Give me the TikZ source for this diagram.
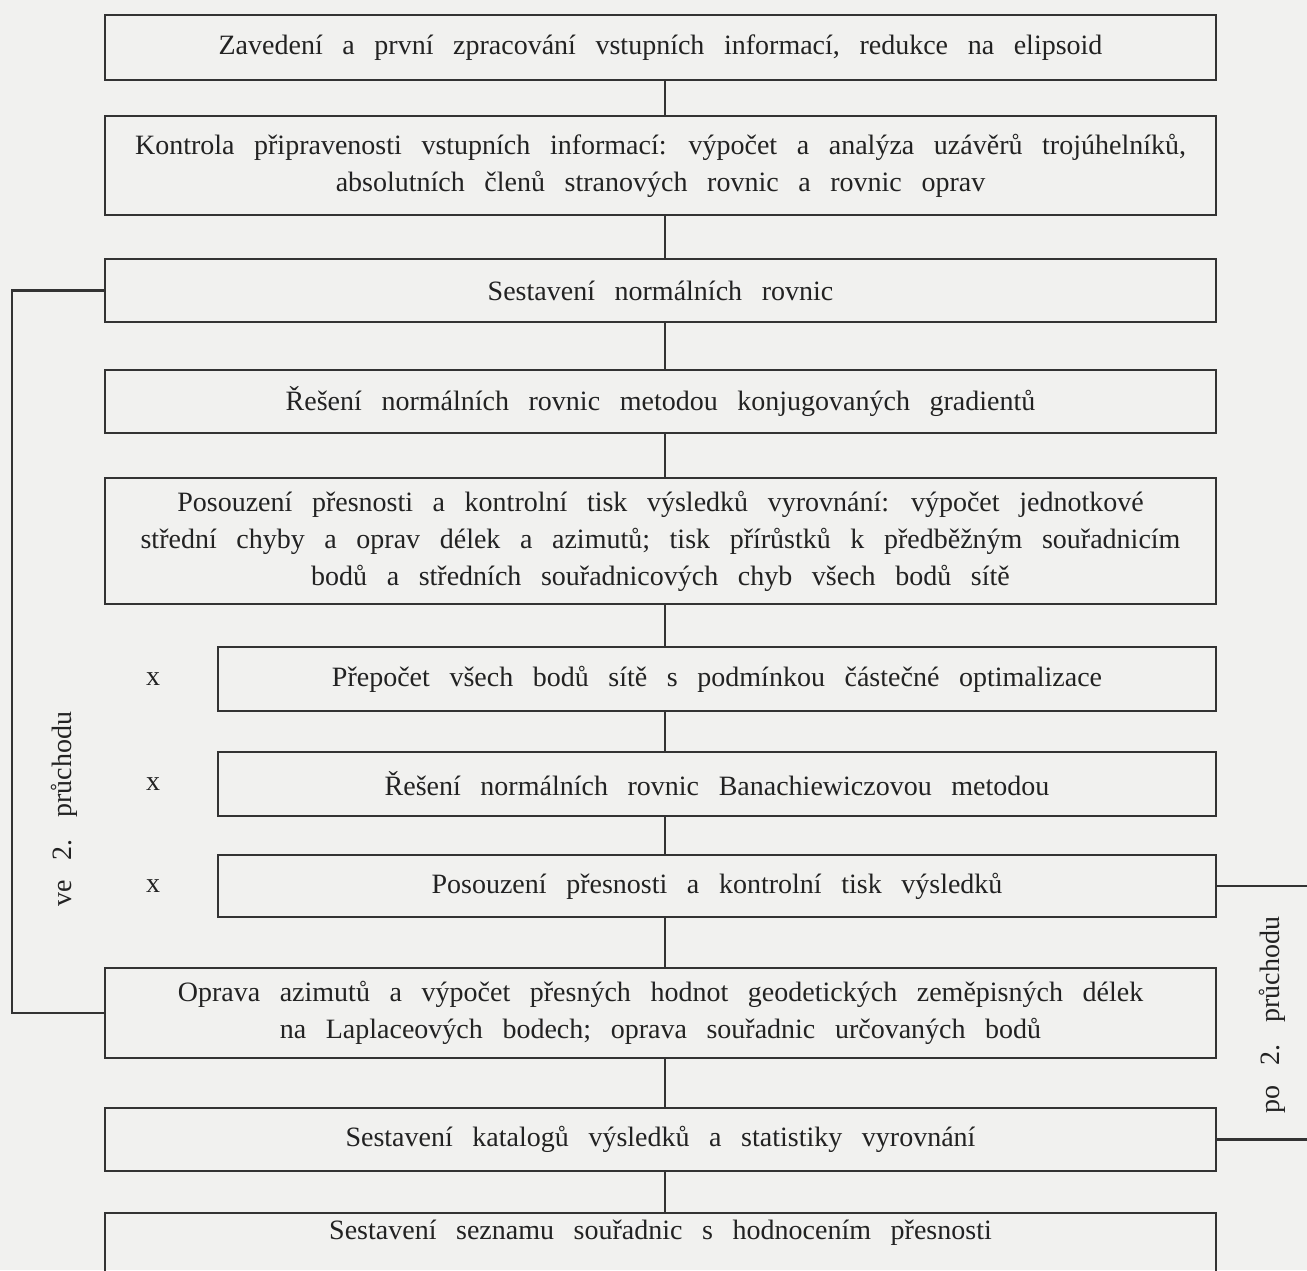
\documentclass[tikz,border=0pt]{standalone}
\usepackage{fontspec}
\setmainfont{Liberation Serif}[WordSpace=2.8]
\definecolor{bgC}{HTML}{F1F1EF}
\definecolor{lineC}{HTML}{333333}
\definecolor{textC}{HTML}{222222}
\begin{document}
\begin{tikzpicture}[x=0.5pt,y=-0.5pt,
  every node/.style={text=textC, font=\fontsize{14}{18.5}\selectfont},
  box/.style={draw=lineC, line width=1.2pt, inner sep=0pt, align=center, minimum width=555.5pt},
  wide/.style={box, minimum width=555.5pt},
  narrow/.style={box, minimum width=499pt},
  conn/.style={draw=lineC, line width=1.2pt}]
\useasboundingbox (0,0) rectangle (1307,1270);
\fill[bgC] (0,0) rectangle (1307,1270);
\clip (0,0) rectangle (1307,1270);
\coordinate (cx) at (665,0);
\coordinate (L) at (12,0);
\coordinate (R) at (1320,0);

\node[wide, minimum height=32.5pt] (b1) at (660.5,47.5) {Zavedení a první zpracování vstupních informací, redukce na elipsoid};
\node[wide, minimum height=49.5pt] (b2) at (660.5,165.5) {Kontrola připravenosti vstupních informací: výpočet a analýza uzávěrů trojúhelníků,\\ absolutních členů stranových rovnic a rovnic oprav};
\node[wide, minimum height=31.5pt] (b3) at (660.5,290.5) {Sestavení normálních rovnic};
\node[wide, minimum height=31.5pt] (b4) at (660.5,401.5) {Řešení normálních rovnic metodou konjugovaných gradientů};
\node[wide, minimum height=63pt] (b5) at (660.5,541) {Posouzení přesnosti a kontrolní tisk výsledků vyrovnání: výpočet jednotkové\\ střední chyby a oprav délek a azimutů; tisk přírůstků k předběžným souřadnicím\\ bodů a středních souřadnicových chyb všech bodů sítě};
\node[narrow, minimum height=32pt] (b6) at (717,679) {Přepočet všech bodů sítě s podmínkou částečné optimalizace};
\node[narrow, minimum height=32pt] (b7) at (717,784) {Řešení normálních rovnic Banachiewiczovou metodou};
\node[narrow, minimum height=31pt] (b8) at (717,886) {Posouzení přesnosti a kontrolní tisk výsledků};
\node[wide, minimum height=45pt] (b9) at (660.5,1013) {Oprava azimutů a výpočet přesných hodnot geodetických zeměpisných délek\\ na Laplaceových bodech; oprava souřadnic určovaných bodů};
\node[wide, minimum height=31.5pt] (b10) at (660.5,1139.5) {Sestavení katalogů výsledků a statistiky vyrovnání};
\node[wide, minimum height=60pt, anchor=north] (b11) at (660.5,1212) {};
\node (t11) at (660.5,1233) {Sestavení seznamu souřadnic s hodnocením přesnosti};

\node (x1) at (153,679) {x};
\node (x2) at (153,784) {x};
\node (x3) at (153,886) {x};

\node[rotate=90] (lv) at (64,809) {ve 2. průchodu};
\node[rotate=90] (lp) at (1272,1015) {po 2. průchodu};

\foreach \a/\b in {b1/b2,b2/b3,b3/b4,b4/b5,b5/b6,b6/b7,b7/b8,b8/b9,b9/b10,b10/b11}
  \draw[conn] (\a.south -| cx) -- (\b.north -| cx);

\draw[conn] (b3.west) -- (b3.west -| L) -- (b9.west -| L) -- (b9.west);
\draw[conn] (b8.east) -- (b8.east -| R);
\draw[conn] (b10.east) -- (b10.east -| R);
\end{tikzpicture}
\end{document}
